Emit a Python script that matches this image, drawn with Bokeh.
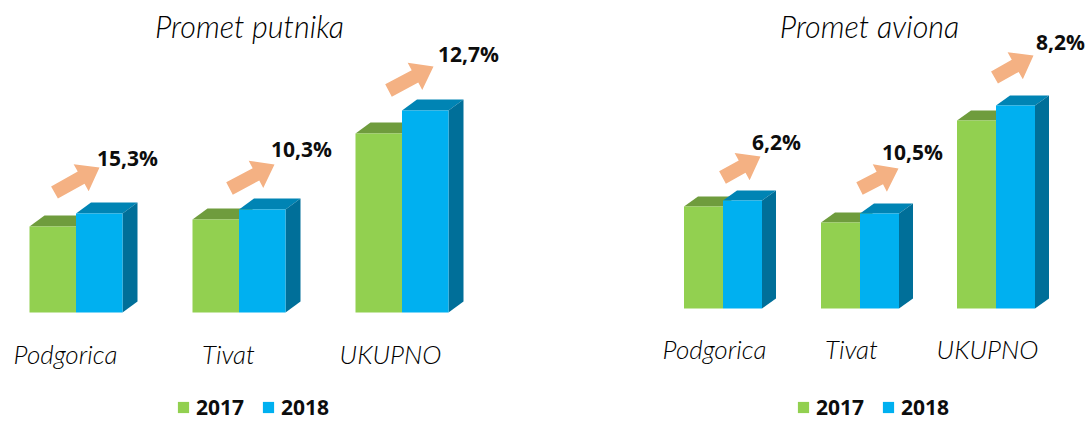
import math
from bokeh.embed import file_html
from bokeh.layouts import row
from bokeh.models import Legend, LegendItem, Range1d
from bokeh.plotting import figure
from bokeh.resources import INLINE
from bokeh.core.properties import value

categories = ["Podgorica", "Tivat", "UKUPNO"]
years = ["2017", "2018"]

putnici_2017 = [86, 93, 179]
putnici_2018 = [99, 103, 202]
putnici_rast = ["15,3%", "10,3%", "12,7%"]

avioni_2017 = [102, 86, 188]
avioni_2018 = [108, 95, 203]
avioni_rast = ["6,2%", "10,5%", "8,2%"]

GREEN, BLUE = "#92D050", "#00B0F0"
GREEN_TOP, BLUE_TOP, BLUE_SIDE = "#6F9C3D", "#0084B4", "#006F99"
ARROW = "#F4B183"
TITLE_FONT = "Lato Light"
BOLD_FONT = "Open Sans"
FIG_H = 421


def arrow_poly(tx, ty, hx, hy, shaft=14, head_w=31, head_l=21):
    L = math.hypot(hx - tx, hy - ty)
    ux, uy = (hx - tx) / L, (hy - ty) / L
    nx, ny = -uy, ux
    bx, by = hx - ux * head_l, hy - uy * head_l
    s, w = shaft / 2, head_w / 2
    return ([tx + nx * s, bx + nx * s, bx + nx * w, hx, bx - nx * w, bx - nx * s, tx - nx * s],
            [ty + ny * s, by + ny * s, by + ny * w, hy, by - ny * w, by - ny * s, ty - ny * s])


def panel(title, v17, v18, growth, px_left, px_w, base, centers, bw, depth, rise,
          title_xy, label_xs, label_y, pct_xy, arrows, legend_xy):
    # one data unit = one pixel, 0 at the bars' baseline
    p = figure(width=px_w, height=FIG_H, output_backend="svg", toolbar_location=None,
               x_range=Range1d(px_left, px_left + px_w),
               y_range=Range1d(base - FIG_H, base),
               x_axis_type=None, y_axis_type=None, min_border=0,
               outline_line_color=None, background_fill_color="white", border_fill_color="white")
    p.grid.visible = False

    x17 = [c - bw / 2 for c in centers]
    x18 = [c + bw / 2 for c in centers]

    p.patches([[x - bw / 2, x + bw / 2, x + bw / 2 + depth, x - bw / 2 + depth] for x in x17],
              [[h, h, h + rise, h + rise] for h in v17], fill_color=GREEN_TOP, line_color=None)
    r17 = p.vbar(x=x17, bottom=0, top=v17, width=bw, fill_color=GREEN, line_color=None)
    p.patches([[x - bw / 2, x + bw / 2, x + bw / 2 + depth, x - bw / 2 + depth] for x in x18],
              [[h, h, h + rise, h + rise] for h in v18], fill_color=BLUE_TOP, line_color=None)
    p.patches([[x + bw / 2, x + bw / 2 + depth, x + bw / 2 + depth, x + bw / 2] for x in x18],
              [[0, rise, h + rise, h] for h in v18], fill_color=BLUE_SIDE, line_color=None)
    r18 = p.vbar(x=x18, bottom=0, top=v18, width=bw, fill_color=BLUE, line_color=None)

    polys = [arrow_poly(tx, base - ty, hx, base - hy) for tx, ty, hx, hy in arrows]
    p.patches([a[0] for a in polys], [a[1] for a in polys], fill_color=ARROW, line_color=None)

    p.text([title_xy[0]], [base - title_xy[1]], text=[title], text_font=value(TITLE_FONT),
           text_font_size="30.5px", text_font_style="italic", text_color="#000000",
           text_align="center", text_baseline="middle")
    p.text(label_xs, [base - label_y] * 3, text=categories, text_font=value(TITLE_FONT),
           text_font_size="26px", text_font_style="italic", text_color="#000000",
           text_align="center", text_baseline="middle")
    p.text([a for a, _ in pct_xy], [base - b for _, b in pct_xy], text=growth,
           text_font=value(BOLD_FONT), text_font_size="21px", text_font_style="bold",
           text_color="#0D0D0D", text_align="center", text_baseline="middle")

    leg = Legend(items=[LegendItem(label=years[0], renderers=[r17]),
                        LegendItem(label=years[1], renderers=[r18])],
                 location=legend_xy, orientation="horizontal", border_line_color=None,
                 background_fill_alpha=0, glyph_width=14, glyph_height=14, label_standoff=6,
                 spacing=17, padding=0, margin=0, label_text_font=BOLD_FONT,
                 label_text_font_size="21px", label_text_font_style="bold",
                 label_text_color="#0D0D0D", label_height=14)
    p.add_layout(leg, "center")
    return p


left = panel("Promet putnika", putnici_2017, putnici_2018, putnici_rast,
             0, 630, 312, [75.5, 238.5, 401.5], 46.5, 15, 11,
             (249, 25.5), [65, 228, 390], 353.5,
             [(127, 157.5), (301, 148.5), (468, 53.5)],
             [(54, 192, 99, 167), (229, 188, 274, 164), (388, 90, 433, 66)],
             (176, 0))
right = panel("Promet aviona", avioni_2017, avioni_2018, avioni_rast,
              630, 455, 308, [722.5, 859.5, 995.5], 39, 14, 10,
              (869, 25.5), [714, 851, 987], 348.5,
              [(776, 141.5), (912, 151.5), (1060, 41.5)],
              [(722, 177, 760, 156), (859, 188, 898, 168), (994, 77, 1033, 55)],
              (166, 0))

open("out.html", "w").write(file_html(row(left, right), INLINE))
